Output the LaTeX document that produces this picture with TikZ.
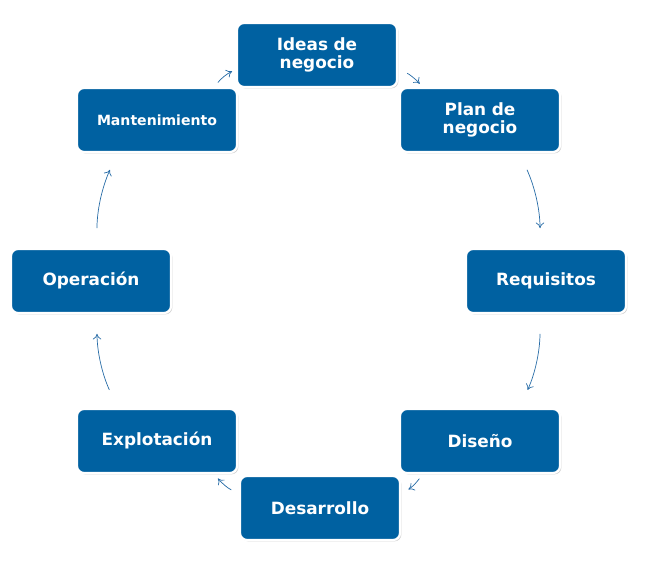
\documentclass[tikz,border=0pt]{standalone}
\usepackage{fontspec}
\setmainfont{DejaVu Sans}
\usetikzlibrary{shadows,arrows.meta}
\definecolor{cbox}{rgb}{0.0,0.38,0.63}
\definecolor{carr}{rgb}{0.15,0.42,0.65}
\tikzset{
  stage/.style={draw=white,line width=1.6pt,fill=cbox,rounded corners=5pt,
    minimum width=4cm,minimum height=1.6cm,text width=3.6cm,align=center,
    text=white,font=\bfseries\fontsize{12}{13}\selectfont,
    drop shadow={shadow xshift=1pt,shadow yshift=-1pt,opacity=0.35}},
  flow/.style={draw=carr,line width=0.5pt,-{To[length=4pt,width=6pt]},bend left=12}
}
\begin{document}
\begin{tikzpicture}[x=0.025cm,y=0.025cm]
%
\useasboundingbox (0,0) rectangle (646,572);
%
\node[stage] (ideas) at (317,517) {Ideas de\\negocio};
\node[stage] (plan) at (480,452) {Plan de\\negocio};
\node[stage] (req) at (546,291) {Requisitos};
\node[stage] (dis) at (480,131) {Diseño};
\node[stage] (des) at (320,64) {Desarrollo};
\node[stage] (exp) at (157,131) {Explotación};
\node[stage] (ope) at (91,291) {Operación};
\node[stage,font=\bfseries\fontsize{10}{12}\selectfont] (man) at (157,452) {Mantenimiento};
%
\draw[flow,shorten <=4pt,shorten >=3pt] (man.30) to (ideas.190);
\draw[flow,shorten <=7pt,shorten >=3pt] (ideas.-10) to (plan.150);
\draw[flow,shorten <=13pt,shorten >=14pt] (plan.-40) to (req.100);
\draw[flow,shorten <=14pt,shorten >=14pt] (req.-100) to (dis.40);
\draw[flow,shorten <=4pt,shorten >=6pt] (dis.-150) to (des.10);
\draw[flow,shorten <=6pt,shorten >=4pt] (des.170) to (exp.-30);
\draw[flow,shorten <=14pt,shorten >=14pt] (exp.140) to (ope.-80);
\draw[flow,shorten <=14pt,shorten >=13pt] (ope.80) to (man.-140);
%
\end{tikzpicture}
\end{document}
